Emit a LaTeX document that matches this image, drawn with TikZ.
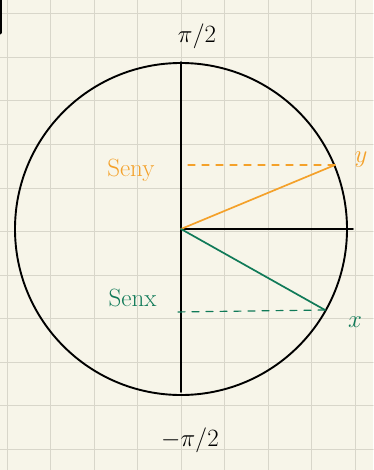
\documentclass[tikz,border=0pt]{standalone}
\usepackage{xcolor,tikz}
\definecolor{paper}{HTML}{F7F5E9}
\definecolor{gridline}{HTML}{D8D6CA}
\definecolor{sinorange}{HTML}{F4A12A}
\definecolor{singreen}{HTML}{107A58}
\begin{document}
\begin{tikzpicture}[x=1pt,y=-1pt,line cap=round,every node/.style={font=\fontsize{25}{27}\selectfont}]
\fill[paper] (0,0) rectangle (373,470);
\useasboundingbox (0,0) rectangle (373,470);
% paper grid
\foreach \gx in {7,50.5,94,137.5,181,224.5,268,311.5,355}
  \draw[gridline,line width=1pt] (\gx,0)--(\gx,470);
\foreach \gy in {14,57.5,101,144.5,188,231.5,275,318.5,362,405.5,449}
  \draw[gridline,line width=1pt] (0,\gy)--(373,\gy);
\draw[black,line width=3pt] (0.5,0)--(0.5,33);
% circle and axes
\coordinate (O) at (181,229);
\draw[line width=1.9pt] (O) circle (166);
\draw[line width=1.9pt] (181,62)--(181,392);
\draw[line width=1.9pt] (O)--(353,229);
\node (top) at (197,36) {$\pi/2$};
\node (bot) at (190,440) {$-\pi/2$};
% point y
\coordinate (Py) at (335,165);
\coordinate (Ay) at (182,165);
\draw[sinorange,line width=1.7pt] (O)--(Py);
\draw[sinorange,line width=1.2pt,dashed,dash pattern=on 7pt off 7pt] (Py)--(Ay);
\node[sinorange,anchor=east] (seny) at (158,170) {Seny};
\node[sinorange] (ly) at (361,160) {$y$};
% point x
\coordinate (Px) at (325,310);
\coordinate (Ax) at (174,312);
\draw[singreen,line width=1.7pt] (O)--(Px);
\draw[singreen,line width=1.2pt,dashed,dash pattern=on 7pt off 7pt] (Px)--(Ax);
\node[singreen,anchor=east] (senx) at (160,298) {Senx};
\node[singreen] (lx) at (355,322) {$x$};
\end{tikzpicture}
\end{document}
